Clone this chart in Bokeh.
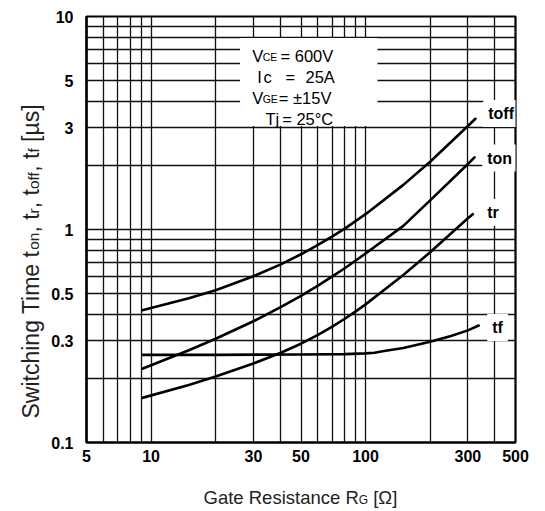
import math
from bokeh.plotting import figure
from bokeh.layouts import column, row
from bokeh.models import FixedTicker, Label
from bokeh.core.properties import value
from bokeh.embed import file_html
from bokeh.resources import INLINE

# ---------------- data ----------------
rg_toff = [9.1, 15, 20, 30, 40, 50, 60, 70, 80, 100, 150, 200, 300, 325]
t_off = [0.418, 0.476, 0.519, 0.603, 0.684, 0.765, 0.846, 0.928, 1.01, 1.18, 1.62, 2.08, 3.06, 3.31]

rg_ton = [9.1, 15, 20, 30, 40, 50, 60, 70, 80, 90, 100, 150, 200, 300, 322]
t_on = [0.222, 0.271, 0.307, 0.371, 0.431, 0.488, 0.545, 0.602, 0.658, 0.715, 0.772, 1.04, 1.37, 2.03, 2.18]

rg_tr = [9.1, 15, 20, 30, 40, 50, 60, 70, 80, 90, 100, 150, 200, 300, 316]
t_r = [0.162, 0.186, 0.204, 0.235, 0.263, 0.291, 0.320, 0.350, 0.381, 0.413, 0.445, 0.611, 0.782, 1.13, 1.18]

rg_tf = [9.1, 20, 50, 80, 100, 110, 120, 150, 200, 250, 300, 337]
t_f = [0.258, 0.258, 0.259, 0.260, 0.262, 0.264, 0.268, 0.278, 0.297, 0.316, 0.336, 0.354]

x_ticks = [5, 10, 30, 50, 100, 300, 500]
x_tick_labels = ["5", "10", "30", "50", "100", "300", "500"]
y_ticks = [0.1, 0.3, 0.5, 1, 3, 5, 10]
y_tick_labels = ["0.1", "0.3", "0.5", "1", "3", "5", "10"]

x_grid = [5, 6, 7, 8, 9, 10, 20, 30, 40, 50, 60, 70, 80, 90, 100, 200, 300, 400, 500]
y_grid = [0.1, 0.2, 0.3, 0.4, 0.5, 0.6, 0.7, 0.8, 0.9, 1, 2, 3, 4, 5, 6, 7, 8, 9, 10]

curve_names = ["toff", "ton", "tr", "tf"]
conditions = ["V", "CE", "= 600V", "I", "c", "=", "25A", "V", "GE", "= \u00b115V",
              "Tj", "= 25\u00b0C"]
x_title = [("Gate Resistance R", 0), ("G", 1), (" [\u03a9]", 0)]
y_title = [("Switching Time t", 0), ("on", 1), (", t", 0), ("r", 1), (", t", 0),
           ("off", 1), (", t", 0), ("f", 1), (" [\u00b5s]", 0)]

# ---------------- layout ----------------
YW = 46                              # width of the y-title strip
FL, FT, FW, FH = 86, 16, 429, 426    # frame position in page px
TOTAL_W = 540
MAIN_W = TOTAL_W - YW
MAIN_H = 472
BOT = MAIN_H - FT - FH               # bottom border of main figure
XH = 36                              # height of x-title strip
FONT = "Liberation Sans"


def dx(px):
    return 5 * 10 ** ((px - FL) / (FW / 2))


def dy(py):
    return 10 * 10 ** (-(py - FT) / (FH / 2))


W = {' ': 278, 'S': 667, 'w': 722, 'i': 222, 't': 278, 'c': 500, 'h': 556, 'n': 556,
     'g': 556, 'T': 611, 'm': 833, 'e': 556, 'o': 556, ',': 278, 'r': 333, 'f': 278,
     '[': 278, ']': 278, '\u00b5': 556, 's': 500, 'G': 778, 'a': 556, 'R': 722,
     '\u03a9': 768}


def tw(s, size):
    return sum(W.get(c, 556) for c in s) / 1000 * size


p = figure(frame_width=FW, frame_height=FH,
           x_axis_type="log", y_axis_type="log",
           x_range=(5, 500), y_range=(0.1, 10),
           output_backend="svg", toolbar_location=None,
           min_border_left=FL - YW, min_border_right=MAIN_W - (FL - YW) - FW,
           min_border_top=FT, min_border_bottom=BOT)
p.background_fill_color = "white"
p.border_fill_color = "white"
p.outline_line_color = "black"
p.outline_line_width = 2.2

for ax, ticks, labels in ((p.xaxis, x_ticks, x_tick_labels), (p.yaxis, y_ticks, y_tick_labels)):
    ax.ticker = FixedTicker(ticks=ticks)
    ax.major_label_overrides = {t: l for t, l in zip(ticks, labels)}
    ax.major_tick_line_color = None
    ax.minor_tick_line_color = None
    ax.axis_line_color = "black"
    ax.axis_line_width = 2.2
    ax.major_label_text_font = FONT
    ax.major_label_text_font_style = "bold"
    ax.major_label_text_font_size = "16px"
    ax.major_label_text_color = "black"
p.xaxis.major_label_standoff = 1
p.yaxis.major_label_standoff = 7

p.xgrid.ticker = FixedTicker(ticks=x_grid)
p.ygrid.ticker = FixedTicker(ticks=y_grid)
for g in (p.xgrid, p.ygrid):
    g.grid_line_color = "#111111"
    g.grid_line_width = 1.3
    g.grid_line_alpha = 1.0

# white box behind the test conditions
p.quad(left=dx(239.5), right=dx(377), top=dy(37.5), bottom=dy(125.5),
       fill_color="white", line_color=None)

# curves
for xs, ys in ((rg_toff, t_off), (rg_ton, t_on), (rg_tr, t_r), (rg_tf, t_f)):
    p.line(xs, ys, line_color="black", line_width=2.6, line_join="round", line_cap="round")

# curve labels
for txt, (px, py) in zip(curve_names, ((482.7, 113), (481.7, 157.5), (481.7, 212), (486.7, 327))):
    p.add_layout(Label(x=dx(px), y=dy(py), text=txt, text_font=FONT, text_font_style="bold",
                       text_font_size="16px", text_baseline="middle", text_align="left",
                       text_color="black", background_fill_color="white", padding=5))

# test conditions box text
cond_pos = [(251.7, 55, 16.5), (262.2, 56, 10.5), (280, 55, 16.5),
            (256.7, 76.7, 16.5), (263, 76.7, 16.5), (285, 76.7, 16.5), (305, 76.7, 16.5),
            (251.7, 97, 16.5), (262.2, 98, 10.5), (278.3, 97, 16.5),
            (265, 118, 16.5), (281.7, 118, 16.5)]
for txt, (px, py, sz) in zip(conditions, cond_pos):
    p.add_layout(Label(x=dx(px), y=dy(py), text=txt, text_font=FONT, text_font_size=f"{sz}px",
                       text_baseline="alphabetic", text_align="left", text_color="black"))


def strip(fw, fh, xr, yr, bl, br, bt, bb):
    f = figure(frame_width=fw, frame_height=fh, x_range=xr, y_range=yr,
               output_backend="svg", toolbar_location=None,
               x_axis_location=None, y_axis_location=None,
               min_border_left=bl, min_border_right=br,
               min_border_top=bt, min_border_bottom=bb)
    f.outline_line_color = None
    f.xgrid.visible = False
    f.ygrid.visible = False
    f.background_fill_color = "white"
    f.border_fill_color = "white"
    return f


def lead(s):
    return s[:len(s) - len(s.lstrip())]


# y title strip: frame aligned with main frame; data y = MAIN_H - page y
ys_fig = strip(YW, FH, (0, YW), (MAIN_H - FT - FH, MAIN_H - FT), 0, 0, FT, BOT)
y0 = 418
for seg, sub in y_title:
    sz = 15.5 if sub else 23
    start = y0 - tw(lead(seg), sz)
    ys_fig.text(x=[30 + 3 * sub], y=[MAIN_H - start], text=[seg.strip()], angle=math.pi / 2,
                text_font=value(FONT), text_font_size=value(f"{sz}px"),
                text_baseline="alphabetic", text_align="left", text_color="#222222")
    y0 -= tw(seg, sz)

# x title strip: frame aligned horizontally with main frame; data x = page x
xs_fig = strip(FW, XH, (FL, FL + FW), (0, XH), FL, TOTAL_W - FL - FW, 0, 0)
x0 = 203
for seg, sub in x_title:
    sz = 12 if sub else 18.5
    start = x0 + tw(lead(seg), sz)
    xs_fig.text(x=[start], y=[(MAIN_H + XH) - (497 + 2.5 * sub)], text=[seg.strip()],
                text_font=value(FONT), text_font_size=value(f"{sz}px"),
                text_baseline="alphabetic", text_align="left", text_color="#222222")
    x0 += tw(seg, sz)

layout = column(row(ys_fig, p, spacing=0), xs_fig, spacing=0)
open("out.html", "w").write(file_html(layout, INLINE))
